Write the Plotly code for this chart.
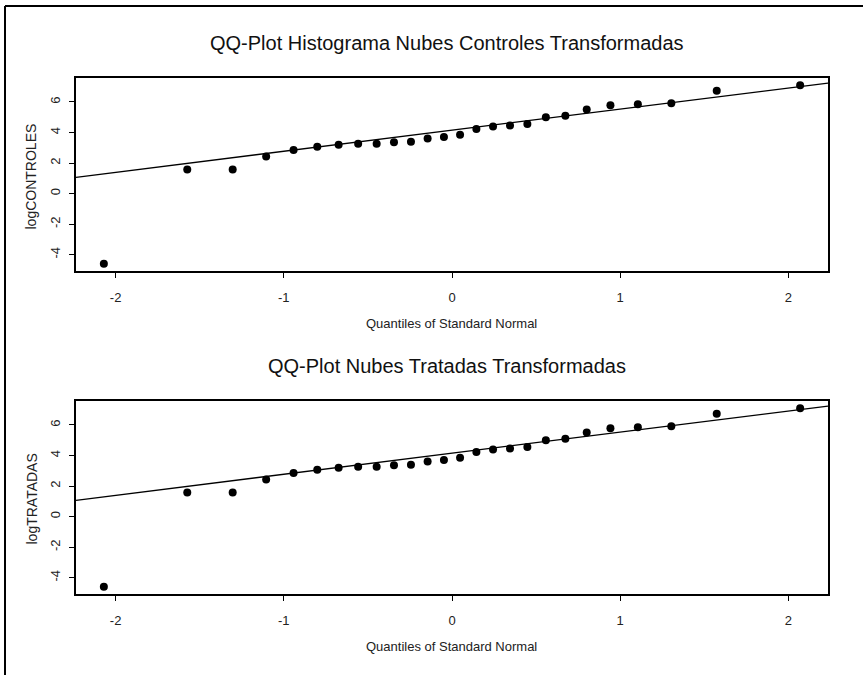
import plotly.graph_objects as go

# Normal scores (x axis) for the 26 observations
quantiles = [-2.070, -1.574, -1.304, -1.105, -0.942, -0.801, -0.674, -0.558,
             -0.448, -0.345, -0.244, -0.145, -0.048, 0.048, 0.145, 0.244,
             0.345, 0.448, 0.558, 0.674, 0.801, 0.942, 1.105, 1.304, 1.574, 2.070]

# sorted sample values
log_controles = [-4.60, 1.58, 1.58, 2.43, 2.85, 3.07, 3.19, 3.26, 3.26, 3.36,
                 3.39, 3.60, 3.71, 3.85, 4.23, 4.40, 4.46, 4.55, 5.00, 5.10,
                 5.50, 5.78, 5.85, 5.92, 6.73, 7.10]
log_tratadas = [-4.60, 1.58, 1.58, 2.43, 2.85, 3.07, 3.19, 3.26, 3.26, 3.36,
                3.39, 3.60, 3.71, 3.85, 4.23, 4.40, 4.46, 4.55, 5.00, 5.10,
                5.50, 5.78, 5.85, 5.92, 6.73, 7.10]

# qqline (intercept, slope)
line_controles = (4.15, 1.38)
line_tratadas = (4.15, 1.38)

x_ticks = [-2, -1, 0, 1, 2]
y_ticks = [-4, -2, 0, 2, 4, 6]

titles = ["QQ-Plot Histograma Nubes Controles Transformadas",
          "QQ-Plot Nubes Tratadas Transformadas"]
y_labels = ["logCONTROLES", "logTRATADAS"]
x_label = "Quantiles of Standard Normal"

W, H = 863, 675
FONT = "Liberation Sans, Arial, sans-serif"


def px(x):
    return x / W


def py(y):
    return 1 - y / H


def pad_range(vals):
    lo, hi = min(vals), max(vals)
    d = (hi - lo) * 0.04
    return [lo - d, hi + d]


# panel boxes in pixels: (left, top, right, bottom)
panels = [(76, 78, 828, 271), (76, 401, 828, 594)]
series = [(log_controles, line_controles), (log_tratadas, line_tratadas)]

fig = go.Figure()
annotations = []

for i, ((l, t, r, b), (yvals, (a, s))) in enumerate(zip(panels, series)):
    n = "" if i == 0 else str(i + 1)
    xr = pad_range(quantiles)
    yr = pad_range(yvals)

    fig.add_trace(go.Scatter(
        x=quantiles, y=yvals, mode="markers",
        marker=dict(color="black", size=8, line=dict(width=0)),
        xaxis="x" + n, yaxis="y" + n, showlegend=False, hoverinfo="x+y",
    ))
    fig.add_trace(go.Scatter(
        x=xr, y=[a + s * v for v in xr], mode="lines",
        line=dict(color="black", width=1.3),
        xaxis="x" + n, yaxis="y" + n, showlegend=False, hoverinfo="skip",
    ))

    axis_common = dict(
        showgrid=False, zeroline=False, showline=True, mirror=True,
        linecolor="black", linewidth=1.6, ticks="outside", ticklen=5,
        tickwidth=1, tickcolor="black",
        tickfont=dict(family=FONT, size=13, color="#222"),
    )
    fig.update_layout({
        "xaxis" + n: dict(axis_common, domain=[px(l), px(r)], range=xr,
                          tickvals=x_ticks, ticktext=[str(v) for v in x_ticks],
                          anchor="y" + n, ticklabelstandoff=9),
        "yaxis" + n: dict(axis_common, domain=[py(b), py(t)], range=yr,
                          tickvals=y_ticks, ticktext=[str(v) for v in y_ticks],
                          anchor="x" + n, tickangle=-90, ticklabelstandoff=4),
    })

    annotations += [
        dict(text=titles[i], x=px((l + r) / 2 - 5), y=py(t - 35),
             xref="paper", yref="paper", showarrow=False,
             xanchor="center", yanchor="middle",
             font=dict(family=FONT, size=20, color="#111")),
        dict(text=x_label, x=px((l + r) / 2), y=py(b + 52),
             xref="paper", yref="paper", showarrow=False,
             xanchor="center", yanchor="middle",
             font=dict(family=FONT, size=13, color="#222")),
        dict(text=y_labels[i], x=px(31), y=py((t + b) / 2 + 2),
             xref="paper", yref="paper", showarrow=False, textangle=-90,
             xanchor="center", yanchor="middle",
             font=dict(family=FONT, size=14, color="#222")),
    ]

# outer frame (only top and left edges show in the picture)
frame = dict(color="black", width=2)
shapes = [
    dict(type="line", xref="paper", yref="paper",
         x0=px(5), y0=py(6), x1=1.2, y1=py(6), line=frame),
    dict(type="line", xref="paper", yref="paper",
         x0=px(5), y0=py(6), x1=px(5), y1=-0.2, line=frame),
]

fig.update_layout(
    width=W, height=H,
    margin=dict(l=0, r=0, t=0, b=0),
    paper_bgcolor="white", plot_bgcolor="white",
    annotations=annotations, shapes=shapes,
    font=dict(family=FONT),
)

# drop the default page margin so the figure sits at the window corner
fig.write_html("out.html", config={"displayModeBar": False},
               post_script="document.body.style.margin='0';")
